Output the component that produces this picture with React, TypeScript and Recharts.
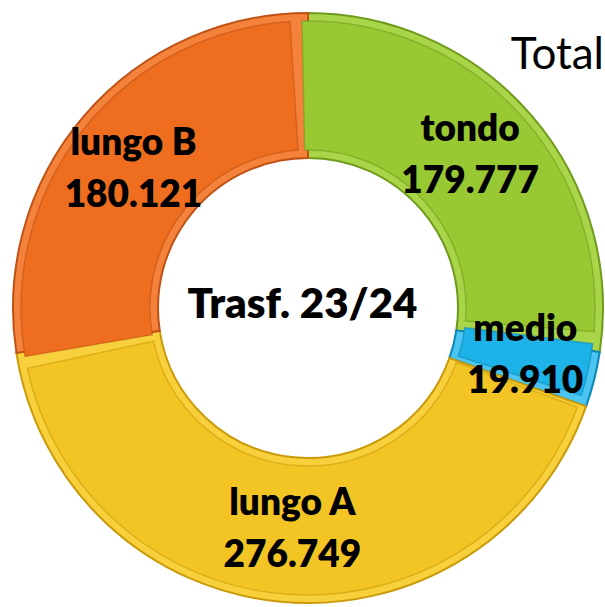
import React from 'react';
import { PieChart, Pie, Cell, Label } from 'recharts';

const categories = ['tondo', 'medio', 'lungo A', 'lungo B'];
const values = [179777, 19910, 276749, 180121];
const colors = ['#99C932', '#1DB2E8', '#F2C424', '#EE6D1F'];
const bandColors = ['#A9D648', '#4CC6F0', '#F7D03C', '#F5823A'];
const edgeColors = ['#6F9A1C', '#0B86B8', '#C99A0A', '#BE5215'];
const title = 'Total';
const centerLabel = 'Trasf. 23/24';

const data = categories.map((name, i) => ({ name, value: values[i] }));

const fmt = (v: number) => String(v).replace(/\B(?=(\d{3})+(?!\d))/g, '.');

const RAD = Math.PI / 180;

const renderLabel = (props: any) => {
  const { cx, cy, midAngle, innerRadius, outerRadius, name, value } = props;
  const r = (innerRadius + outerRadius) / 2;
  const x = cx + r * Math.cos(-midAngle * RAD);
  const y = cy + r * Math.sin(-midAngle * RAD);
  return (
    <text
      x={x}
      y={y}
      textAnchor="middle"
      fontFamily="Lato, 'Open Sans', sans-serif"
      fontWeight={800}
      fontSize={37}
      fill="#000"
    >
      <tspan x={x} dy={-15}>{name}</tspan>
      <tspan x={x} dy={52}>{fmt(value)}</tspan>
    </text>
  );
};

export default function App() {
  return (
    <div style={{ position: 'absolute', left: 0, top: 0, width: 605, height: 607, background: '#fff' }}>
      <PieChart width={605} height={607} margin={{ top: 0, right: 0, bottom: 0, left: 0 }}>
        <Pie
          data={data}
          dataKey="value"
          nameKey="name"
          cx={308}
          cy={308}
          innerRadius={150}
          outerRadius={295}
          startAngle={90}
          endAngle={-270}
          isAnimationActive={false}
          labelLine={false}
        >
          {data.map((d, i) => (
            <Cell key={d.name} fill={bandColors[i]} stroke={edgeColors[i]} strokeWidth={2} />
          ))}
        </Pie>
        <Pie
          data={data}
          dataKey="value"
          nameKey="name"
          cx={308}
          cy={308}
          innerRadius={158}
          outerRadius={287}
          startAngle={91.2}
          endAngle={-268.8}
          paddingAngle={2.4}
          isAnimationActive={false}
          labelLine={false}
          label={renderLabel}
        >
          {data.map((d, i) => (
            <Cell key={d.name} fill={colors[i]} stroke={edgeColors[i]} strokeOpacity={0.55} strokeWidth={1.5} />
          ))}
          <Label
            value={centerLabel}
            position="center"
            fontFamily="Lato, 'Open Sans', sans-serif"
            fontWeight={800}
            fontSize={42}
            fill="#000"
          />
        </Pie>
      </PieChart>
      <div
        style={{
          position: 'absolute',
          right: 1,
          top: 26,
          fontFamily: "Lato, 'Open Sans', sans-serif",
          fontSize: 44,
          color: '#000',
          lineHeight: '52px',
        }}
      >
        {title}
      </div>
    </div>
  );
}
